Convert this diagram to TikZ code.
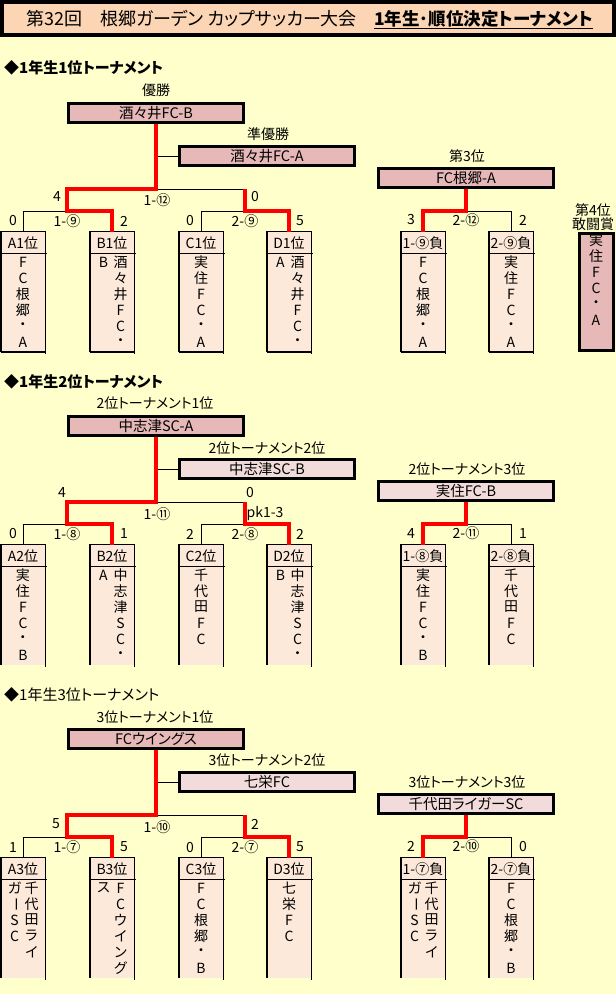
\documentclass[tikz,border=0pt]{standalone}
\usepackage{fontspec}
\setmainfont{Noto Sans CJK JP}[RawFeature=+palt]
\usetikzlibrary{calc}
\definecolor{bg}{HTML}{FFFFCC}
\definecolor{titlefill}{HTML}{FCD5B4}
\definecolor{rose}{HTML}{E6B8B7}
\definecolor{palerose}{HTML}{F2DCDB}
\definecolor{teamfill}{HTML}{FDE9D9}
\definecolor{winred}{HTML}{FF0000}
\tikzset{
  txt/.style={inner sep=0pt, font=\fontsize{14}{16}\selectfont},
  rankbox/.style={draw=black, line width=3pt, minimum width=175pt, minimum height=19pt, inner sep=0pt, font=\fontsize{14.5}{16}\selectfont},
  winline/.style={draw=winred, line width=4pt},
  thinline/.style={draw=black, line width=0.9pt},
  teamcell/.style={fill=teamfill, minimum width=44pt, minimum height=120pt, inner sep=0pt, draw=none},
}
\def\Bottom{1}
\newcommand\vcol[4]{%
  \foreach \ch [count=\k] in {#4} {\node[txt] (#1-\k) at (#2,{#3+16*(\k-1)}) {\ch};}%
}
\newcommand\teambox[5]{%
  \node[teamcell] (#1) at (#2,292) {};
  \draw[thinline] (#1.south west) -- (#1.north west) -- (#1.north east) -- ($(#1.south east)+(0,2)$);
  \draw[line width=2.5pt] (#1.south west) -- (#1.north west);
  \ifnum\Bottom=1 \draw[line width=2.5pt] (#1.south west) -- (#1.south east);\fi
  \draw[thinline] ($(#1.north west)+(0,22)$) -- ($(#1.north east)+(2,22)$);
  \node[txt] (#1-h) at (#2,243) {#3};
  \if\relax\detokenize{#5}\relax
    \vcol{#1-r}{#2}{262}{#4}
  \else
    \vcol{#1-r}{#2+8.5}{262}{#4}
    \vcol{#1-l}{#2-8.5}{262}{#5}
  \fi
}
\newcommand\bracket[1]{%
  \coordinate (#1-t) at (156,189);
  \coordinate (#1-tl) at (67,189);
  \coordinate (#1-ml) at (67,211);
  \coordinate (#1-mlr) at (112,211);
  \coordinate (#1-mll) at (23,211);
  \coordinate (#1-tr) at (245,189);
  \coordinate (#1-mr) at (245,211);
  \coordinate (#1-mrr) at (289,211);
  \coordinate (#1-mrl) at (201,211);
  \coordinate (#1-j) at (156,156);
  \coordinate (#1-tm) at (466,211);
  \coordinate (#1-tml) at (423,211);
  \coordinate (#1-tmr) at (511,211);
  \draw[thinline] (#1-t) -- (#1-tr);
  \draw[thinline] (#1-j) -- (#1-second.west);
  \draw[thinline] (#1-A.north) -- (#1-mll) -- (#1-ml);
  \draw[thinline] (#1-C.north) -- (#1-mrl) -- (#1-mr);
  \draw[thinline] (#1-F.north) -- (#1-tmr) -- (#1-tm);
  \draw[winline] (#1-champ.south) -- (#1-t) -- (#1-tl) -- (#1-ml) -- (#1-mlr) -- (#1-B.north);
  \draw[winline] (#1-tr) -- (#1-mr) -- (#1-mrr) -- (#1-D.north);
  \draw[winline] (#1-third.south) -- (#1-tm) -- (#1-tml) -- (#1-E.north);
}
\begin{document}
\begin{tikzpicture}[x=1pt,y=-1pt]
\useasboundingbox (0,0) rectangle (616,994);
\fill[bg] (0,0) rectangle (616,994);
% title
\node[draw=black, line width=3.5pt, fill=titlefill, minimum width=612pt, minimum height=33pt, inner sep=0pt] (title) at (308,18.5) {};
\node[inner sep=0pt, anchor=west, font=\fontsize{18}{20}\selectfont] (t1) at (26,19) {第32回　根郷ガーデン カップサッカー大会};
\node[inner sep=0pt, anchor=west, font=\fontsize{17.5}{20}\selectfont\bfseries] (t2) at (374,19) {1年生･順位決定トーナメント};
\draw[line width=1.2pt] ($(t2.base west)+(0,3)$) -- ($(t2.base east)+(0,3)$);

% ===== section 1 =====
\begin{scope}
\node[txt, anchor=west, font=\fontsize{15}{17}\selectfont\bfseries] (s1-head) at (4,68) {◆1年生1位トーナメント};
\node[txt] (s1-l1) at (156,90) {優勝};
\node[rankbox, fill=rose] (s1-champ) at (156,113) {酒々井FC-B};
\node[txt] (s1-l2) at (268,134) {準優勝};
\node[rankbox, fill=rose] (s1-second) at (267,156) {酒々井FC-A};
\node[txt] (s1-l3) at (467,156) {第3位};
\node[rankbox, fill=rose] (s1-third) at (466,178) {FC根郷-A};
\teambox{s1-A}{23}{A1位}{F,C,根,郷,・,A}{}
\teambox{s1-B}{112}{B1位}{酒,々,井,F,C,・}{B}
\teambox{s1-C}{201}{C1位}{実,住,F,C,・,A}{}
\teambox{s1-D}{289}{D1位}{酒,々,井,F,C,・}{A}
\teambox{s1-E}{423}{1-⑨負}{F,C,根,郷,・,A}{}
\teambox{s1-F}{511}{2-⑨負}{実,住,F,C,・,A}{}
\bracket{s1}
\node[txt] (s1-sc1) at (57,197) {4};
\node[txt] (s1-sc2) at (255,197) {0};
\node[txt] (s1-m1) at (157,200) {1-⑫};
\node[txt] (s1-sc3) at (13,221) {0};
\node[txt] (s1-m2) at (67,221) {1-⑨};
\node[txt] (s1-sc4) at (124,221) {2};
\node[txt] (s1-sc5) at (190,221) {0};
\node[txt] (s1-m3) at (245,221) {2-⑨};
\node[txt] (s1-sc6) at (300,221) {5};
\node[txt] (s1-sc7) at (411,220) {3};
\node[txt] (s1-m4) at (466,220) {2-⑫};
\node[txt] (s1-sc8) at (523,220) {2};
% 4th place
\node[txt] (s1-l4a) at (593,210) {第4位};
\node[txt] (s1-l4b) at (593,224) {敢闘賞};
\node[draw=black, line width=3pt, fill=rose, minimum width=34pt, minimum height=117pt, inner sep=0pt] (s1-fourth) at (596.5,292) {};
\vcol{s1-fourth-c}{596}{240}{実,住,F,C,・,A}
\end{scope}

% ===== section 2 =====
\def\Bottom{0}
\begin{scope}[shift={(0,313)}]
\node[txt, anchor=west, font=\fontsize{15}{17}\selectfont\bfseries] (s2-head) at (4,69) {◆1年生2位トーナメント};
\node[txt] (s2-l1) at (155,90) {2位トーナメント1位};
\node[rankbox, fill=rose] (s2-champ) at (156,113) {中志津SC-A};
\node[txt] (s2-l2) at (267,135) {2位トーナメント2位};
\node[rankbox, fill=palerose] (s2-second) at (267,156) {中志津SC-B};
\node[txt] (s2-l3) at (467,156) {2位トーナメント3位};
\node[rankbox, fill=palerose] (s2-third) at (466,178) {実住FC-B};
\teambox{s2-A}{23}{A2位}{実,住,F,C,・,B}{}
\teambox{s2-B}{112}{B2位}{中,志,津,S,C,・}{A}
\teambox{s2-C}{201}{C2位}{千,代,田,F,C}{}
\teambox{s2-D}{289}{D2位}{中,志,津,S,C,・}{B}
\teambox{s2-E}{423}{1-⑧負}{実,住,F,C,・,B}{}
\teambox{s2-F}{511}{2-⑧負}{千,代,田,F,C}{}
\bracket{s2}
\node[txt] (s2-sc1) at (62,180) {4};
\node[txt] (s2-sc2) at (250,180) {0};
\node[txt] (s2-m1) at (157,201) {1-⑪};
\node[txt] (s2-pk) at (265,201) {pk1-3};
\node[txt] (s2-sc3) at (13,221) {0};
\node[txt] (s2-m2) at (67,221) {1-⑧};
\node[txt] (s2-sc4) at (124,221) {1};
\node[txt] (s2-sc5) at (190,221) {2};
\node[txt] (s2-m3) at (245,221) {2-⑧};
\node[txt] (s2-sc6) at (300,221) {2};
\node[txt] (s2-sc7) at (411,220) {4};
\node[txt] (s2-m4) at (466,220) {2-⑪};
\node[txt] (s2-sc8) at (523,220) {1};
\end{scope}

% ===== section 3 =====
\begin{scope}[shift={(0,626)}]
\node[txt, anchor=west, font=\fontsize{15}{17}\selectfont] (s3-head) at (4,69) {◆1年生3位トーナメント};
\node[txt] (s3-l1) at (155,91) {3位トーナメント1位};
\node[rankbox, fill=rose] (s3-champ) at (156,113) {FCウイングス};
\node[txt] (s3-l2) at (267,134) {3位トーナメント2位};
\node[rankbox, fill=palerose] (s3-second) at (267,156) {七栄FC};
\node[txt] (s3-l3) at (467,156) {3位トーナメント3位};
\node[rankbox, fill=palerose] (s3-third) at (466,178) {千代田ライガーSC};
\teambox{s3-A}{23}{A3位}{千,代,田,ラ,イ}{ガ,\rotatebox{-90}{ー},S,C}
\teambox{s3-B}{112}{B3位}{F,C,ウ,イ,ン,グ}{ス}
\teambox{s3-C}{201}{C3位}{F,C,根,郷,・,B}{}
\teambox{s3-D}{289}{D3位}{七,栄,F,C}{}
\teambox{s3-E}{423}{1-⑦負}{千,代,田,ラ,イ}{ガ,\rotatebox{-90}{ー},S,C}
\teambox{s3-F}{511}{2-⑦負}{F,C,根,郷,・,B}{}
\bracket{s3}
\node[txt] (s3-sc1) at (56,198) {5};
\node[txt] (s3-sc2) at (255,198) {2};
\node[txt] (s3-m1) at (157,201) {1-⑩};
\node[txt] (s3-sc3) at (13,221) {1};
\node[txt] (s3-m2) at (67,221) {1-⑦};
\node[txt] (s3-sc4) at (124,221) {5};
\node[txt] (s3-sc5) at (190,221) {0};
\node[txt] (s3-m3) at (245,221) {2-⑦};
\node[txt] (s3-sc6) at (300,221) {5};
\node[txt] (s3-sc7) at (411,220) {2};
\node[txt] (s3-m4) at (466,220) {2-⑩};
\node[txt] (s3-sc8) at (523,220) {0};
\end{scope}
\end{tikzpicture}
\end{document}
